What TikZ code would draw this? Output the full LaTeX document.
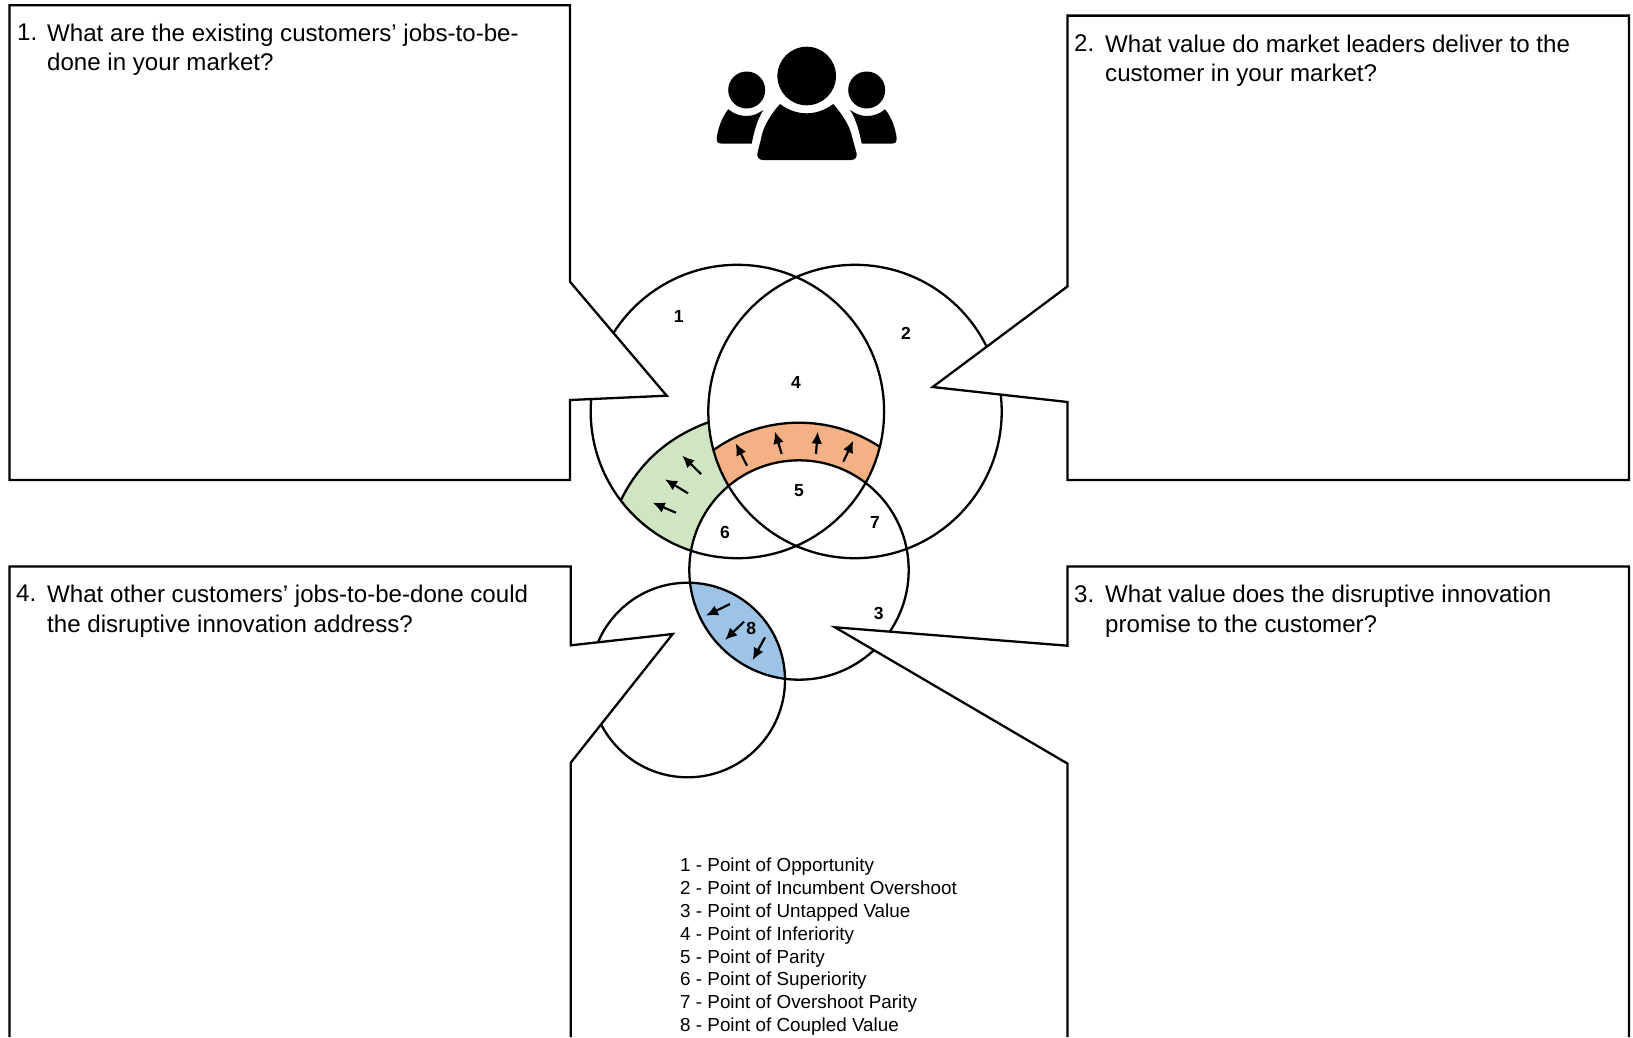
\documentclass[tikz,border=0pt]{standalone}
\usepackage{fontspec}
\setmainfont{Liberation Sans}
\usetikzlibrary{arrows.meta}
\definecolor{greenfill}{HTML}{D0E5C2}
\definecolor{orangefill}{HTML}{F4B183}
\definecolor{bluefill}{HTML}{9DC3E6}
\tikzset{
  ring/.style={draw=black,line width=2.3pt},
  callout/.style={fill=white,draw=none},
  edge/.style={draw=black,line width=2.3pt,line join=miter},
  qtext/.style={anchor=north west,inner sep=0pt,align=left,font=\fontsize{24.1pt}{29.6pt}\selectfont},
  region/.style={anchor=center,inner sep=0pt,font=\fontsize{17.5pt}{20pt}\selectfont\bfseries},
  legend/.style={anchor=north west,inner sep=0pt,align=left,font=\fontsize{18.85pt}{22.8pt}\selectfont},
  pointer/.style={draw=black,line width=2.2pt,-{Latex[length=12pt,width=11pt]}},
}
\begin{document}
\begin{tikzpicture}[x=1pt,y=-1pt]
\useasboundingbox (0,0) rectangle (1633,1037);
\coordinate (c1) at (737.4,411.5);
\coordinate (c2) at (855,411.5);
\coordinate (c3) at (799,570);
\coordinate (c4) at (687.7,680);
% coloured regions
\begin{scope}
  \clip (c1) circle (146.7pt);
  \begin{scope}[even odd rule]
  \clip (0,0) rectangle (1633,1037) (c2) circle (146.7pt);
  \begin{scope}[even odd rule]
  \clip (0,0) rectangle (1633,1037) (c3) circle (109.7pt);
  \begin{scope}[nonzero rule]
  \fill[greenfill] (620,502) .. controls (638,464) and (668,436) .. (712,421) -- (760,420) -- (760,600) -- (600,600) -- cycle;
  \end{scope}
  \end{scope}
  \draw[ring] (620,502) .. controls (638,464) and (668,436) .. (712,421);
  \end{scope}
\end{scope}
\begin{scope}
  \clip (c1) circle (146.7pt);
  \clip (c2) circle (146.7pt);
  \begin{scope}[even odd rule]
  \clip (0,0) rectangle (1633,1037) (c3) circle (109.7pt);
  \fill[orangefill] (c3) circle (147.3pt);
  \end{scope}
  \draw[ring] (c3) circle (147.3pt);
\end{scope}
\begin{scope}
  \clip (c3) circle (109.7pt);
  \fill[bluefill] (c4) circle (97.3pt);
\end{scope}
% the four circles
\draw[ring] (c1) circle (146.7pt);
\draw[ring] (c2) circle (146.7pt);
\draw[ring] (c3) circle (109.7pt);
\draw[ring] (c4) circle (97.3pt);
% callout boxes
\fill[callout] (9.4,5.2) -- (570,5.2) -- (570,281.7) -- (666.7,395.7) -- (570,400) -- (570,480) -- (9.4,480) -- cycle;
\draw[edge] (9.4,5.2) -- (570,5.2) -- (570,281.7) -- (666.7,395.7) -- (570,400) -- (570,480) -- (9.4,480) -- cycle;
\fill[callout] (1067.5,15.6) -- (1629,15.6) -- (1629,480) -- (1067.5,480) -- (1067.5,402) -- (932.7,387) -- (1067.5,286.4) -- cycle;
\draw[edge] (1067.5,15.6) -- (1629,15.6) -- (1629,480) -- (1067.5,480) -- (1067.5,402) -- (932.7,387) -- (1067.5,286.4) -- cycle;
\fill[callout] (1067.5,566.5) -- (1629,566.5) -- (1629,1037) -- (1067.5,1037) -- (1067.5,763.6) -- (835,627.3) -- (1067.5,645.7) -- cycle;
\draw[edge] (1067.5,1037) -- (1067.5,763.6) -- (835,627.3) -- (1067.5,645.7) -- (1067.5,566.5) -- (1629,566.5) -- (1629,1037);
\fill[callout] (9.4,566.5) -- (570.7,566.5) -- (570.7,645.3) -- (672.7,634) -- (570.7,762.7) -- (570.7,1037) -- (9.4,1037) -- cycle;
\draw[edge] (9.4,1037) -- (9.4,566.5) -- (570.7,566.5) -- (570.7,645.3) -- (672.7,634) -- (570.7,762.7) -- (570.7,1037);
% arrows
\coordinate (o1a) at (747,465.7); \coordinate (o1b) at (735.7,443.3);
\coordinate (o2a) at (781.7,454); \coordinate (o2b) at (775,431.7);
\coordinate (o3a) at (816,454); \coordinate (o3b) at (817.7,431.7);
\coordinate (o4a) at (843.3,461.7); \coordinate (o4b) at (853.3,440.7);
\coordinate (g1a) at (701,474); \coordinate (g1b) at (682.3,455.7);
\coordinate (g2a) at (688,493.3); \coordinate (g2b) at (665,479.3);
\coordinate (g3a) at (676,512.7); \coordinate (g3b) at (652.7,502.7);
\coordinate (b1a) at (730,604); \coordinate (b1b) at (706,615.7);
\coordinate (b2a) at (744,621.7); \coordinate (b2b) at (725,640);
\coordinate (b3a) at (765,637.3); \coordinate (b3b) at (752.7,660);
\foreach \n in {o1,o2,o3,o4,g1,g2,g3,b1,b2,b3} \draw[pointer] (\n a) -- (\n b);
% people icon
\fill (806.7,76) circle (29.3pt);
\fill (746.7,90) circle (18.5pt);
\fill (866.7,90) circle (18.5pt);
\fill (780,104) .. controls (788,110) and (797,113.3) .. (806.7,113.3) .. controls (816,113.3) and (825,110) .. (833.3,104)
  .. controls (842,114) and (850,126) .. (852,136.7) -- (856.5,153) .. controls (857.5,157) and (855,160) .. (851,160)
  -- (763,160) .. controls (759,160) and (756.5,157) .. (757.5,153) -- (761.5,136.7) .. controls (763.5,126) and (771,114) .. (780,104) -- cycle;
\fill (728.3,109.3) .. controls (734,114) and (740,116) .. (746.7,116) .. controls (753,116) and (758,113.5) .. (763.3,110)
  .. controls (757,120) and (754,132) .. (751.7,143.5) -- (721,143.5) .. controls (717.5,143.5) and (716,141) .. (716.7,138.3)
  .. controls (718,128) and (722,117) .. (728.3,109.3) -- cycle;
\fill (885.1,109.3) .. controls (879.4,114) and (873.4,116) .. (866.7,116) .. controls (860.4,116) and (855.4,113.5) .. (850.1,110)
  .. controls (856.4,120) and (859.4,132) .. (861.7,143.5) -- (892.4,143.5) .. controls (895.9,143.5) and (897.4,141) .. (896.7,138.3)
  .. controls (895.4,128) and (891.4,117) .. (885.1,109.3) -- cycle;
% region numbers
\node[region] (r1) at (678.7,316) {1};
\node[region] (r2) at (906,333.3) {2};
\node[region] (r3) at (878.7,613.3) {3};
\node[region] (r4) at (796,382.3) {4};
\node[region] (r5) at (799,490.7) {5};
\node[region] (r6) at (725,532.3) {6};
\node[region] (r7) at (875,522.3) {7};
\node[region] (r8) at (751.3,628.3) {8};
% questions
\node[qtext] (q1n) at (17,23.5) {1.};
\node[qtext] (q1) at (47,23.5) {What are the existing customers’ jobs-to-be-\\done in your market?};
\node[qtext] (q2n) at (1074,34.5) {2.};
\node[qtext] (q2) at (1105,34.5) {What value do market leaders deliver to the\\customer in your market?};
\node[qtext] (q3n) at (1074,585) {3.};
\node[qtext] (q3) at (1105,585) {What value does the disruptive innovation\\promise to the customer?};
\node[qtext] (q4n) at (16,585) {4.};
\node[qtext] (q4) at (47,585) {What other customers’ jobs-to-be-done could\\the disruptive innovation address?};
% legend
\node[legend] (key) at (680,858) {1 - Point of Opportunity\\2 - Point of Incumbent Overshoot\\3 - Point of Untapped Value\\4 - Point of Inferiority\\5 - Point of Parity\\6 - Point of Superiority\\7 - Point of Overshoot Parity\\8 - Point of Coupled Value};
\end{tikzpicture}
\end{document}
